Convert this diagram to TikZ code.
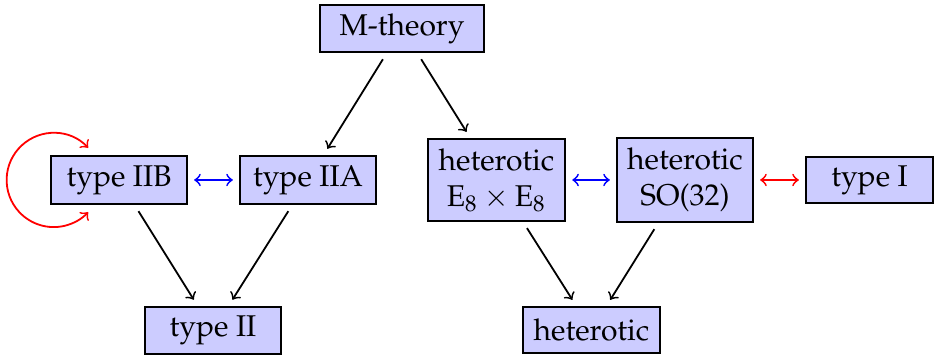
\documentclass[tikz,border=0pt]{standalone}
\usepackage[T1]{fontenc}
\usepackage{mathpazo}
\begin{document}
\begin{tikzpicture}[x=0.3333pt,y=-0.3333pt,
  box/.style={draw=black, fill=blue!20, line width=0.65pt, align=center, inner sep=0pt, outer sep=2.4pt},
  arr/.style={->, >=to, line width=0.6pt},
  dual/.style={<->, >=to, line width=0.6pt}]
\useasboundingbox (0,0) rectangle (934,358);
\node[box, minimum width=54.7pt, minimum height=15.7pt] (M) at (402,28.5) {M-theory};
\node[box, minimum width=45.3pt, minimum height=16pt] (IIB) at (119,180) {type IIB};
\node[box, minimum width=45.3pt, minimum height=16pt] (IIA) at (308,180) {type IIA};
\node[box, minimum width=45.7pt, minimum height=27.3pt] (E8) at (496.5,180) {heterotic\\$\mathrm{E}_8\times\mathrm{E}_8$};
\node[box, minimum width=45.3pt, minimum height=28pt] (SO) at (685,180) {heterotic\\SO(32)};
\node[box, minimum width=42.3pt, minimum height=15.3pt] (I) at (869.5,180) {type I};
\node[box, minimum width=45.3pt, minimum height=15.7pt] (II) at (213,330.5) {type II};
\node[box, minimum width=45.7pt, minimum height=15.3pt] (H) at (591.5,330) {heterotic};
\draw[arr] (M) -- (IIA);
\draw[arr] (M) -- (E8);
\draw[arr] (IIB) -- (II);
\draw[arr] (IIA) -- (II);
\draw[arr] (E8) -- (H);
\draw[arr] (SO) -- (H);
\draw[dual, blue] (IIB) -- (IIA);
\draw[dual, blue] (E8) -- (SO);
\draw[dual, red] (SO) -- (I);
\draw[dual, red] ([xshift=3.3pt]IIB.west) ++(43:15.7pt) arc[start angle=43, end angle=317, radius=15.7pt];
\end{tikzpicture}
\end{document}
